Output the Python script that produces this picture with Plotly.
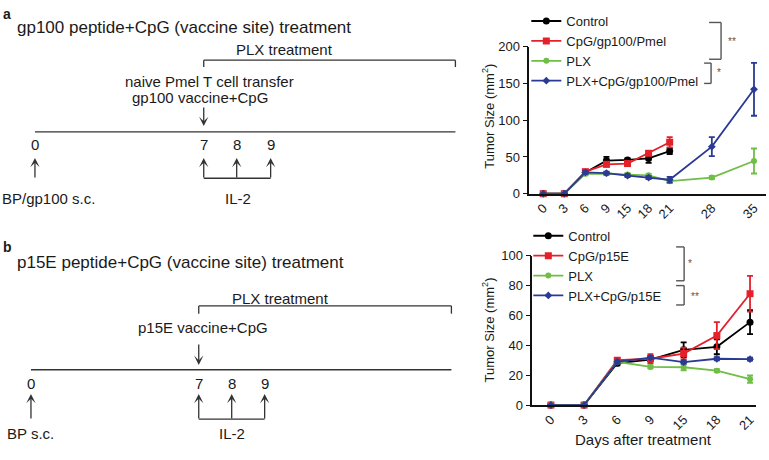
import plotly.graph_objects as go

W, H = 769, 460
FONT = "Arial, Liberation Sans, sans-serif"
TXT = "#1a1a1a"

# ---------------- data ----------------
days_a = ["0", "3", "6", "9", "15", "18", "21", "28", "35"]
slots_a = ["0", "3", "6", "9", "15", "18", "21", " ", "28", "  ", "35"]
ctrl_a = [0, 0, 29, 45, 46, 48, 58]
ctrl_a_err = [0, 0, 2, 5, 2, 6, 4]
cpg_a = [0, 0, 30, 40, 41, 55, 70]
cpg_a_err = [0, 0, 2, 3, 3, 3, 7]
plx_a = [0, 0, 27, 27.5, 26, 25, 17, 22, 44.5]
plx_a_err = [0, 0, 2, 2, 2, 2, 2, 2, 17]
comb_a = [0, 0, 29, 28, 24.5, 22, 19, 64, 142]
comb_a_err = [0, 0, 2, 2, 2, 2, 4, 13, 36]
names_a = ["Control", "CpG/gp100/Pmel", "PLX", "PLX+CpG/gp100/Pmel"]

days_b = ["0", "3", "6", "9", "15", "18", "21"]
ctrl_b = [0, 0, 28, 30.5, 37, 39, 55.5]
ctrl_b_err = [0, 0, 1.5, 1, 5, 5, 8]
cpg_b = [0, 0, 30, 31, 34.5, 46.5, 74.5]
cpg_b_err = [0, 0, 1, 3, 4, 9, 12]
plx_b = [0, 0, 29, 25.5, 25.3, 23, 17.3]
plx_b_err = [0, 0, 1, 1, 2, 1, 2.5]
comb_b = [0, 0, 29, 31.7, 28.7, 31, 30.7]
comb_b_err = [0, 0, 1, 1, 1, 1, 1]
names_b = ["Control", "CpG/p15E", "PLX", "PLX+CpG/p15E"]

colors = ["#000000", "#E4202A", "#6FBE46", "#2B3A93"]
symbols = ["circle", "square", "circle", "diamond"]
msizes = [7, 7, 6, 6]


def px(x):
    return x / W


def py(y):
    return 1 - y / H


fig = go.Figure()

series_a = [(ctrl_a, ctrl_a_err), (cpg_a, cpg_a_err), (plx_a, plx_a_err), (comb_a, comb_a_err)]
for i, (vals, errs) in enumerate(series_a):
    fig.add_trace(go.Scatter(
        x=days_a[:len(vals)], y=vals, name=names_a[i], mode="lines+markers",
        line=dict(color=colors[i], width=1.8),
        marker=dict(color=colors[i], symbol=symbols[i], size=msizes[i]),
        error_y=dict(type="data", array=errs, color=colors[i], thickness=1.8, width=3),
        xaxis="x", yaxis="y", legend="legend", cliponaxis=False,
    ))

series_b = [(ctrl_b, ctrl_b_err), (cpg_b, cpg_b_err), (plx_b, plx_b_err), (comb_b, comb_b_err)]
for i, (vals, errs) in enumerate(series_b):
    fig.add_trace(go.Scatter(
        x=days_b[:len(vals)], y=vals, name=names_b[i], mode="lines+markers",
        line=dict(color=colors[i], width=1.8),
        marker=dict(color=colors[i], symbol=symbols[i], size=msizes[i]),
        error_y=dict(type="data", array=errs, color=colors[i], thickness=1.8, width=3),
        xaxis="x2", yaxis="y2", legend="legend2", cliponaxis=False,
    ))

axis_common = dict(showgrid=False, zeroline=False, showline=True, linecolor="#111",
                   linewidth=1.6, tickfont=dict(family=FONT, size=13, color=TXT))

fig.update_layout(
    width=W, height=H, margin=dict(l=0, r=0, t=0, b=0),
    paper_bgcolor="white", plot_bgcolor="white",
    font=dict(family=FONT, color=TXT),
    xaxis=dict(domain=[px(530), px(767)], anchor="y", type="category",
               categoryorder="array", categoryarray=slots_a,
               tickmode="array", tickvals=days_a, ticktext=days_a,
               range=[-0.66, 10.57], tickangle=-45, ticks="", **axis_common),
    yaxis=dict(domain=[py(193), py(41)], anchor="x", range=[0, 200],
               tickvals=[0, 50, 100, 150, 200], ticks="outside", ticklen=5,
               tickwidth=1.4, tickcolor="#111", **axis_common),
    xaxis2=dict(domain=[px(533), px(757)], anchor="y2", type="category",
                categoryorder="array", categoryarray=days_b,
                range=[-0.56, 6.18], tickangle=-45, ticks="", **axis_common),
    yaxis2=dict(domain=[py(411.5), py(257)], anchor="x2", range=[0, 100],
                tickvals=[0, 20, 40, 60, 80, 100], ticks="outside", ticklen=5,
                tickwidth=1.4, tickcolor="#111", **axis_common),
    legend=dict(x=px(527), y=py(-1), xanchor="left", yanchor="top",
                bgcolor="rgba(0,0,0,0)", font=dict(family=FONT, size=13, color=TXT),
                tracegroupgap=0, itemwidth=30),
    legend2=dict(x=px(529), y=py(221), xanchor="left", yanchor="top",
                 bgcolor="rgba(0,0,0,0)", font=dict(family=FONT, size=13, color=TXT),
                 tracegroupgap=0, itemwidth=30),
    showlegend=True,
)

shapes = []
annots = []
LC = "#333333"


def line(x0, y0, x1, y1, w=1.3, c=LC):
    shapes.append(dict(type="line", xref="paper", yref="paper",
                       x0=px(x0), y0=py(y0), x1=px(x1), y1=py(y1),
                       line=dict(color=c, width=w)))


def text(x, y, t, size=14, xanchor="center", bold=False, angle=0, color=TXT):
    annots.append(dict(xref="paper", yref="paper", x=px(x), y=py(y), text=("<b>%s</b>" % t) if bold else t,
                       showarrow=False, xanchor=xanchor, yanchor="middle", textangle=angle,
                       font=dict(family=FONT, size=size, color=color)))


def arrow(x, ytip, ytail, head=3):
    annots.append(dict(xref="paper", yref="paper", x=px(x), y=py(ytip), ax=0, ay=ytail - ytip,
                       text="", showarrow=True, arrowhead=head, arrowsize=1.2, arrowwidth=1.3,
                       arrowcolor=LC))


# ---- panel a timeline ----
text(1, 7, "a", size=14, xanchor="left", bold=True)
text(15, 21, "gp100 peptide+CpG (vaccine site) treatment", size=17, xanchor="left")
text(285, 44, "PLX treatment", size=15)
line(204, 62, 204, 55); line(204, 55, 456, 55); line(456, 55, 456, 62)
text(210, 77, "naive Pmel T cell transfer", size=15)
text(200, 94, "gp100 vaccine+CpG", size=15)
arrow(204, 123, 103)
line(35, 129, 456, 129)
for xx, lab in [(35, "0"), (204, "7"), (237, "8"), (271, "9")]:
    text(xx, 142, lab, size=15)
    arrow(xx, 156, 177)
line(204, 177, 271, 177)
text(0, 198, "BP/gp100 s.c.", size=15, xanchor="left")
text(238, 198, "IL-2", size=15)

# ---- panel b timeline ----
text(1, 248, "b", size=14, xanchor="left", bold=True)
text(15, 264, "p15E peptide+CpG (vaccine site) treatment", size=17, xanchor="left")
text(281, 301, "PLX treatment", size=15)
line(199, 317, 199, 309); line(199, 309, 452, 309); line(452, 309, 452, 317)
text(203, 331, "p15E vaccine+CpG", size=15)
arrow(199, 370, 348)
line(31, 375, 452, 375)
for xx, lab in [(31, "0"), (199, "7"), (232, "8"), (265, "9")]:
    text(xx, 389, lab, size=15)
    arrow(xx, 400, 426)
line(199, 426, 265, 426)
text(5, 441, "BP s.c.", size=15, xanchor="left")
text(232, 441, "IL-2", size=15)

# ---- axis titles ----
text(489, 113, "Tumor Size (mm<sup>2</sup>)", size=13, angle=-90)
text(489, 334, "Tumor Size (mm<sup>2</sup>)", size=13, angle=-90)
text(644, 447, "Days after treatment", size=15)

# ---- significance brackets ----
SC = "#555555"
line(710, 16, 722, 16, 1.4, SC); line(722, 16, 722, 54, 1.4, SC); line(722, 54, 710, 54, 1.4, SC)
line(705, 58, 712, 58, 1.4, SC); line(712, 58, 712, 79, 1.4, SC); line(712, 79, 705, 79, 1.4, SC)
text(733, 36, "**", size=10, color=SC)
text(720, 68, "*", size=10, color=SC)
line(677, 248, 685, 248, 1.4, SC); line(685, 248, 685, 283, 1.4, SC); line(685, 283, 677, 283, 1.4, SC)
line(677, 288, 685, 288, 1.4, SC); line(685, 288, 685, 308, 1.4, SC); line(685, 308, 677, 308, 1.4, SC)
text(691, 265, "*", size=10, color=SC)
text(696, 299, "**", size=10, color=SC)

fig.update_layout(shapes=shapes, annotations=annots)
fig.write_html("out.html", config={"displayModeBar": False},
               post_script="document.body.style.margin='0';")
